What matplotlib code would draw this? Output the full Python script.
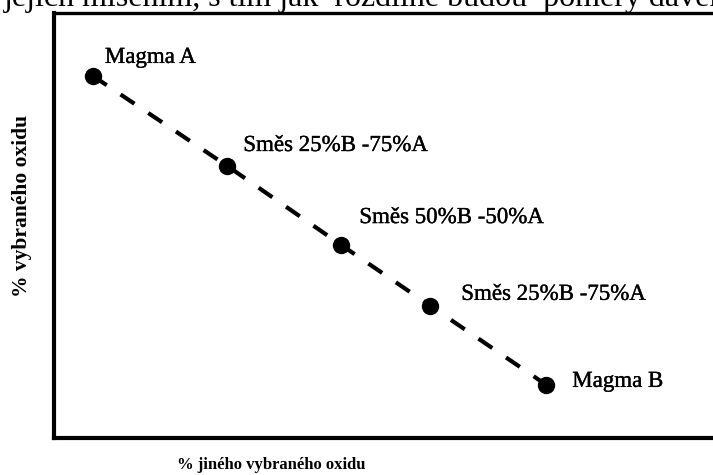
import matplotlib

matplotlib.use("Agg")
import matplotlib.pyplot as plt
import matplotlib.patheffects as pe

# Mixing line between two magmas (arbitrary oxide percentages)
labels = ["Magma A", "Směs 25%B -75%A", "Směs 50%B -50%A", "Směs 25%B -75%A", "Magma B"]
other_oxide = [5.9, 26.3, 43.6, 57.1, 74.7]
chosen_oxide = [85.2, 64.0, 45.4, 31.1, 12.5]

# label offsets in pixels from each point
label_offsets = [(12, 8), (16, 10), (18, 17), (31, 1), (26, -7)]

plt.rcParams["font.family"] = ["Liberation Serif", "DejaVu Serif"]

fig = plt.figure(figsize=(7.13, 4.75), dpi=100)
ax = fig.add_axes([54 / 713, 37 / 475, 659 / 713, 425 / 475])

ax.plot(other_oxide, chosen_oxide, color="black", lw=3, ls=(0, (4, 4)),
        dash_capstyle="butt", zorder=2)
ax.plot(other_oxide, chosen_oxide, ls="none", marker="o", ms=11.5,
        color="black", zorder=3)

heavy = [pe.withStroke(linewidth=0.25, foreground="black")]
for name, x, y, off in zip(labels, other_oxide, chosen_oxide, label_offsets):
    ax.annotate(name, (x, y), xytext=off, textcoords="offset pixels",
                ha="left", va="bottom", fontsize=16.5, path_effects=heavy)

ax.set_xlim(0, 100)
ax.set_ylim(0, 100)
ax.set_xticks([])
ax.set_yticks([])
ax.spines["right"].set_visible(False)
ax.spines["left"].set_linewidth(3)
ax.spines["bottom"].set_linewidth(3)
ax.spines["top"].set_linewidth(2.4)

fig.text(22 / 713, 1 - 206 / 475, "% vybraného oxidu", rotation=90,
         ha="center", va="center", fontsize=15.5, fontweight="bold")
fig.text(271 / 713, 1 - 465 / 475, "% jiného vybraného oxidu",
         ha="center", va="center", fontsize=12, fontweight="bold")

# tail of the running paragraph above the figure
fig.text(0.005, 1 - 6 / 475, "jejich mísením, s tím jak  rozdílné budou  poměry dávek",
         ha="left", va="baseline", fontsize=23)

fig.savefig("out.png", dpi=100)
